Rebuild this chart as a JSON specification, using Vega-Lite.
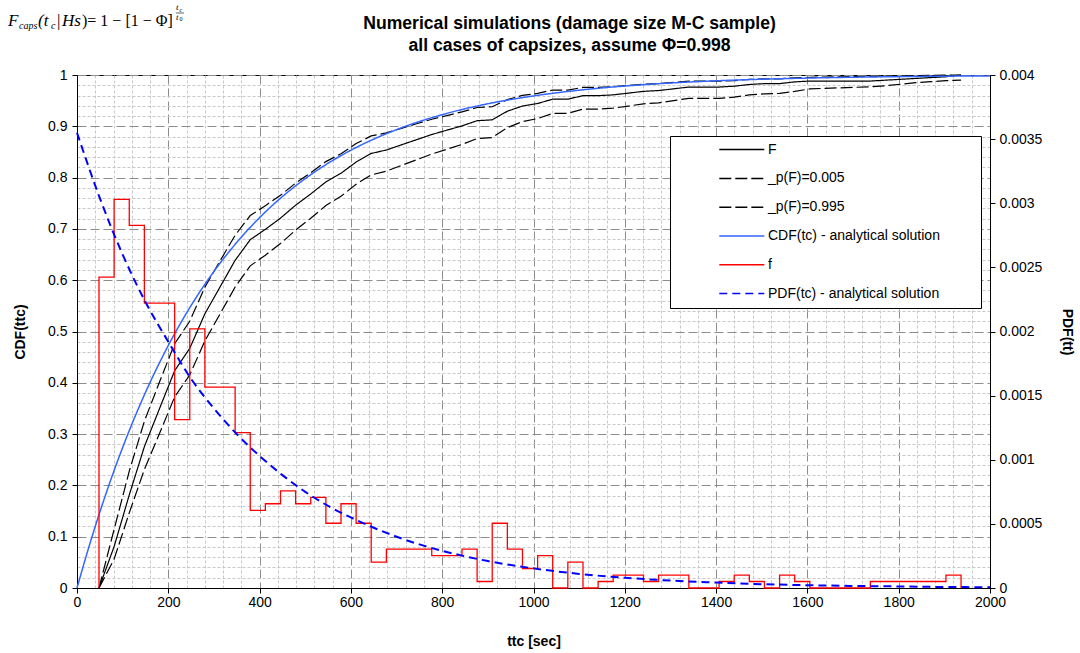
{
  "$schema": "https://vega.github.io/schema/vega-lite/v6.json",
  "width": 913,
  "height": 513,
  "autosize": {"type": "none"},
  "padding": {"left": 77, "top": 75, "right": 90, "bottom": 65},
  "background": "white",
  "datasets": {
    "emp": [
      {"t":48.2,"F":0,"lo":0,"hi":0},
      {"t":81.3,"F":0.0807,"lo":0.0563,"hi":0.1143},
      {"t":114.5,"F":0.1815,"lo":0.1465,"hi":0.2277},
      {"t":147.6,"F":0.2756,"lo":0.2311,"hi":0.3251},
      {"t":180.7,"F":0.3496,"lo":0.3012,"hi":0.4014},
      {"t":213.9,"F":0.4235,"lo":0.3725,"hi":0.4763},
      {"t":247.0,"F":0.4672,"lo":0.4152,"hi":0.5200},
      {"t":280.1,"F":0.5345,"lo":0.4817,"hi":0.5865},
      {"t":313.2,"F":0.5866,"lo":0.5339,"hi":0.6374},
      {"t":346.4,"F":0.6387,"lo":0.5867,"hi":0.6876},
      {"t":379.5,"F":0.6790,"lo":0.6280,"hi":0.7261},
      {"t":412.6,"F":0.6992,"lo":0.6488,"hi":0.7452},
      {"t":445.8,"F":0.7210,"lo":0.6714,"hi":0.7657},
      {"t":478.9,"F":0.7462,"lo":0.6977,"hi":0.7893},
      {"t":512.0,"F":0.7681,"lo":0.7207,"hi":0.8096},
      {"t":545.2,"F":0.7916,"lo":0.7456,"hi":0.8312},
      {"t":578.3,"F":0.8084,"lo":0.7635,"hi":0.8465},
      {"t":611.4,"F":0.8303,"lo":0.7871,"hi":0.8663},
      {"t":644.5,"F":0.8471,"lo":0.8053,"hi":0.8813},
      {"t":677.7,"F":0.8538,"lo":0.8126,"hi":0.8872},
      {"t":710.8,"F":0.8639,"lo":0.8237,"hi":0.8961},
      {"t":743.9,"F":0.8739,"lo":0.8347,"hi":0.9049},
      {"t":777.1,"F":0.8840,"lo":0.8459,"hi":0.9137},
      {"t":810.2,"F":0.8924,"lo":0.8552,"hi":0.9209},
      {"t":843.3,"F":0.9008,"lo":0.8647,"hi":0.9281},
      {"t":876.5,"F":0.9109,"lo":0.8761,"hi":0.9366},
      {"t":909.6,"F":0.9126,"lo":0.8780,"hi":0.9381},
      {"t":942.7,"F":0.9294,"lo":0.8974,"hi":0.9520},
      {"t":975.8,"F":0.9395,"lo":0.9092,"hi":0.9602},
      {"t":1009.0,"F":0.9445,"lo":0.9151,"hi":0.9641},
      {"t":1042.1,"F":0.9529,"lo":0.9251,"hi":0.9707},
      {"t":1075.2,"F":0.9529,"lo":0.9251,"hi":0.9707},
      {"t":1108.4,"F":0.9597,"lo":0.9334,"hi":0.9759},
      {"t":1141.5,"F":0.9597,"lo":0.9334,"hi":0.9759},
      {"t":1174.6,"F":0.9613,"lo":0.9353,"hi":0.9771},
      {"t":1207.8,"F":0.9647,"lo":0.9395,"hi":0.9796},
      {"t":1240.9,"F":0.9681,"lo":0.9438,"hi":0.9821},
      {"t":1274.0,"F":0.9697,"lo":0.9458,"hi":0.9833},
      {"t":1307.1,"F":0.9731,"lo":0.9501,"hi":0.9857},
      {"t":1340.3,"F":0.9765,"lo":0.9545,"hi":0.9880},
      {"t":1373.4,"F":0.9765,"lo":0.9545,"hi":0.9880},
      {"t":1406.5,"F":0.9765,"lo":0.9545,"hi":0.9880},
      {"t":1439.7,"F":0.9782,"lo":0.9567,"hi":0.9892},
      {"t":1472.8,"F":0.9815,"lo":0.9611,"hi":0.9913},
      {"t":1505.9,"F":0.9832,"lo":0.9634,"hi":0.9924},
      {"t":1539.1,"F":0.9832,"lo":0.9640,"hi":0.9924},
      {"t":1572.2,"F":0.9866,"lo":0.9680,"hi":0.9945},
      {"t":1605.3,"F":0.9882,"lo":0.9730,"hi":0.9954},
      {"t":1638.4,"F":0.9882,"lo":0.9740,"hi":0.9960},
      {"t":1671.6,"F":0.9882,"lo":0.9750,"hi":0.9965},
      {"t":1704.7,"F":0.9882,"lo":0.9760,"hi":0.9970},
      {"t":1737.8,"F":0.9882,"lo":0.9770,"hi":0.9975},
      {"t":1771.0,"F":0.9899,"lo":0.9790,"hi":0.9980},
      {"t":1804.1,"F":0.9916,"lo":0.9820,"hi":0.9984},
      {"t":1837.2,"F":0.9933,"lo":0.9850,"hi":0.9988},
      {"t":1870.4,"F":0.9950,"lo":0.9870,"hi":0.9992},
      {"t":1903.5,"F":0.9966,"lo":0.9890,"hi":0.9996},
      {"t":1936.6,"F":1.0,"lo":0.9900,"hi":1.0}
    ],
    "cdfa": [
      {"t":0,"cdf":0,"s":"CDF(tc) - analytical solution"},
      {"t":25,"cdf":0.0769,"s":"CDF(tc) - analytical solution"},
      {"t":50,"cdf":0.1479,"s":"CDF(tc) - analytical solution"},
      {"t":75,"cdf":0.2134,"s":"CDF(tc) - analytical solution"},
      {"t":100,"cdf":0.2739,"s":"CDF(tc) - analytical solution"},
      {"t":150,"cdf":0.3812,"s":"CDF(tc) - analytical solution"},
      {"t":200,"cdf":0.4727,"s":"CDF(tc) - analytical solution"},
      {"t":250,"cdf":0.5507,"s":"CDF(tc) - analytical solution"},
      {"t":300,"cdf":0.6171,"s":"CDF(tc) - analytical solution"},
      {"t":350,"cdf":0.6737,"s":"CDF(tc) - analytical solution"},
      {"t":400,"cdf":0.7220,"s":"CDF(tc) - analytical solution"},
      {"t":450,"cdf":0.7631,"s":"CDF(tc) - analytical solution"},
      {"t":500,"cdf":0.7981,"s":"CDF(tc) - analytical solution"},
      {"t":550,"cdf":0.8280,"s":"CDF(tc) - analytical solution"},
      {"t":600,"cdf":0.8534,"s":"CDF(tc) - analytical solution"},
      {"t":700,"cdf":0.8935,"s":"CDF(tc) - analytical solution"},
      {"t":800,"cdf":0.9227,"s":"CDF(tc) - analytical solution"},
      {"t":900,"cdf":0.9439,"s":"CDF(tc) - analytical solution"},
      {"t":1000,"cdf":0.9592,"s":"CDF(tc) - analytical solution"},
      {"t":1100,"cdf":0.9704,"s":"CDF(tc) - analytical solution"},
      {"t":1200,"cdf":0.9785,"s":"CDF(tc) - analytical solution"},
      {"t":1300,"cdf":0.9844,"s":"CDF(tc) - analytical solution"},
      {"t":1400,"cdf":0.9887,"s":"CDF(tc) - analytical solution"},
      {"t":1500,"cdf":0.9918,"s":"CDF(tc) - analytical solution"},
      {"t":1600,"cdf":0.9940,"s":"CDF(tc) - analytical solution"},
      {"t":1700,"cdf":0.9957,"s":"CDF(tc) - analytical solution"},
      {"t":1800,"cdf":0.9968,"s":"CDF(tc) - analytical solution"},
      {"t":1900,"cdf":0.9977,"s":"CDF(tc) - analytical solution"},
      {"t":2000,"cdf":0.9983,"s":"CDF(tc) - analytical solution"}
    ],
    "hist": [
      {"i":0,"t":48.2,"pdf":0,"s":"f"},
      {"i":1,"t":48.2,"pdf":0.002424,"s":"f"},
      {"i":2,"t":81.3,"pdf":0.00303,"s":"f"},
      {"i":3,"t":114.5,"pdf":0.002828,"s":"f"},
      {"i":4,"t":147.6,"pdf":0.002222,"s":"f"},
      {"i":5,"t":180.7,"pdf":0.002222,"s":"f"},
      {"i":6,"t":213.9,"pdf":0.001313,"s":"f"},
      {"i":7,"t":247.0,"pdf":0.00202,"s":"f"},
      {"i":8,"t":280.1,"pdf":0.001566,"s":"f"},
      {"i":9,"t":313.2,"pdf":0.001566,"s":"f"},
      {"i":10,"t":346.4,"pdf":0.001212,"s":"f"},
      {"i":11,"t":379.5,"pdf":0.000606,"s":"f"},
      {"i":12,"t":412.6,"pdf":0.000657,"s":"f"},
      {"i":13,"t":445.8,"pdf":0.000758,"s":"f"},
      {"i":14,"t":478.9,"pdf":0.000657,"s":"f"},
      {"i":15,"t":512.0,"pdf":0.000707,"s":"f"},
      {"i":16,"t":545.2,"pdf":0.000505,"s":"f"},
      {"i":17,"t":578.3,"pdf":0.000657,"s":"f"},
      {"i":18,"t":611.4,"pdf":0.000505,"s":"f"},
      {"i":19,"t":644.5,"pdf":0.000202,"s":"f"},
      {"i":20,"t":677.7,"pdf":0.000303,"s":"f"},
      {"i":21,"t":710.8,"pdf":0.000303,"s":"f"},
      {"i":22,"t":743.9,"pdf":0.000303,"s":"f"},
      {"i":23,"t":777.1,"pdf":0.000253,"s":"f"},
      {"i":24,"t":810.2,"pdf":0.000253,"s":"f"},
      {"i":25,"t":843.3,"pdf":0.000303,"s":"f"},
      {"i":26,"t":876.5,"pdf":0.0000505,"s":"f"},
      {"i":27,"t":909.6,"pdf":0.000505,"s":"f"},
      {"i":28,"t":942.7,"pdf":0.000303,"s":"f"},
      {"i":29,"t":975.8,"pdf":0.000152,"s":"f"},
      {"i":30,"t":1009.0,"pdf":0.000253,"s":"f"},
      {"i":31,"t":1042.1,"pdf":0,"s":"f"},
      {"i":32,"t":1075.2,"pdf":0.000202,"s":"f"},
      {"i":33,"t":1108.4,"pdf":0,"s":"f"},
      {"i":34,"t":1141.5,"pdf":0.0000505,"s":"f"},
      {"i":35,"t":1174.6,"pdf":0.000101,"s":"f"},
      {"i":36,"t":1207.8,"pdf":0.000101,"s":"f"},
      {"i":37,"t":1240.9,"pdf":0.0000505,"s":"f"},
      {"i":38,"t":1274.0,"pdf":0.000101,"s":"f"},
      {"i":39,"t":1307.1,"pdf":0.000101,"s":"f"},
      {"i":40,"t":1340.3,"pdf":0,"s":"f"},
      {"i":41,"t":1373.4,"pdf":0,"s":"f"},
      {"i":42,"t":1406.5,"pdf":0.0000505,"s":"f"},
      {"i":43,"t":1439.7,"pdf":0.000101,"s":"f"},
      {"i":44,"t":1472.8,"pdf":0.0000505,"s":"f"},
      {"i":45,"t":1505.9,"pdf":0,"s":"f"},
      {"i":46,"t":1539.1,"pdf":0.000101,"s":"f"},
      {"i":47,"t":1572.2,"pdf":0.0000505,"s":"f"},
      {"i":48,"t":1605.3,"pdf":0,"s":"f"},
      {"i":49,"t":1638.4,"pdf":0,"s":"f"},
      {"i":50,"t":1671.6,"pdf":0,"s":"f"},
      {"i":51,"t":1704.7,"pdf":0,"s":"f"},
      {"i":52,"t":1737.8,"pdf":0.0000505,"s":"f"},
      {"i":53,"t":1771.0,"pdf":0.0000505,"s":"f"},
      {"i":54,"t":1804.1,"pdf":0.0000505,"s":"f"},
      {"i":55,"t":1837.2,"pdf":0.0000505,"s":"f"},
      {"i":56,"t":1870.4,"pdf":0.0000505,"s":"f"},
      {"i":57,"t":1903.5,"pdf":0.000101,"s":"f"},
      {"i":58,"t":1936.6,"pdf":0,"s":"f"}
    ],
    "pdfa": [
      {"t":0,"pdf":0.00355,"s":"PDF(tc) - analytical solution"},
      {"t":50,"pdf":0.00304,"s":"PDF(tc) - analytical solution"},
      {"t":100,"pdf":0.00260,"s":"PDF(tc) - analytical solution"},
      {"t":150,"pdf":0.00223,"s":"PDF(tc) - analytical solution"},
      {"t":200,"pdf":0.00192,"s":"PDF(tc) - analytical solution"},
      {"t":250,"pdf":0.00163,"s":"PDF(tc) - analytical solution"},
      {"t":300,"pdf":0.00140,"s":"PDF(tc) - analytical solution"},
      {"t":350,"pdf":0.00120,"s":"PDF(tc) - analytical solution"},
      {"t":400,"pdf":0.00103,"s":"PDF(tc) - analytical solution"},
      {"t":450,"pdf":0.00088,"s":"PDF(tc) - analytical solution"},
      {"t":500,"pdf":0.00075,"s":"PDF(tc) - analytical solution"},
      {"t":550,"pdf":0.00064,"s":"PDF(tc) - analytical solution"},
      {"t":600,"pdf":0.00055,"s":"PDF(tc) - analytical solution"},
      {"t":650,"pdf":0.00047,"s":"PDF(tc) - analytical solution"},
      {"t":700,"pdf":0.00040,"s":"PDF(tc) - analytical solution"},
      {"t":750,"pdf":0.00034,"s":"PDF(tc) - analytical solution"},
      {"t":800,"pdf":0.00029,"s":"PDF(tc) - analytical solution"},
      {"t":900,"pdf":0.00021,"s":"PDF(tc) - analytical solution"},
      {"t":1000,"pdf":0.000153,"s":"PDF(tc) - analytical solution"},
      {"t":1100,"pdf":0.000110,"s":"PDF(tc) - analytical solution"},
      {"t":1200,"pdf":0.000080,"s":"PDF(tc) - analytical solution"},
      {"t":1300,"pdf":0.000058,"s":"PDF(tc) - analytical solution"},
      {"t":1400,"pdf":0.000042,"s":"PDF(tc) - analytical solution"},
      {"t":1500,"pdf":0.000030,"s":"PDF(tc) - analytical solution"},
      {"t":1600,"pdf":0.000022,"s":"PDF(tc) - analytical solution"},
      {"t":1700,"pdf":0.000016,"s":"PDF(tc) - analytical solution"},
      {"t":1800,"pdf":0.000012,"s":"PDF(tc) - analytical solution"},
      {"t":1900,"pdf":0.000008,"s":"PDF(tc) - analytical solution"},
      {"t":2000,"pdf":0.000006,"s":"PDF(tc) - analytical solution"}
    ]
  },
  "encoding": {
    "x": {
      "field": "t", "type": "quantitative",
      "scale": {"domain": [0, 2000], "nice": false},
      "axis": {
        "title": "ttc [sec]", "format": "d", "titlePadding": 25,
        "values": [0,40,80,120,160,200,240,280,320,360,400,440,480,520,560,600,640,680,720,760,800,840,880,920,960,1000,1040,1080,1120,1160,1200,1240,1280,1320,1360,1400,1440,1480,1520,1560,1600,1640,1680,1720,1760,1800,1840,1880,1920,1960,2000],
        "labelExpr": "datum.value % 200 === 0 ? datum.label : ''",
        "tickSize": {"condition": {"test": "datum.value % 200 === 0", "value": 5}, "value": 0},
        "gridColor": {"condition": {"test": "datum.value % 200 === 0", "value": "#8c8c8c"}, "value": "#c8c8c8"},
        "gridDash": {"condition": {"test": "datum.value % 200 === 0", "value": [9, 4]}, "value": [3, 2]}
      }
    }
  },
  "layer": [
    {
      "encoding": {
        "y": {
          "field": "cdf", "type": "quantitative",
          "scale": {"domain": [0, 1], "nice": false},
          "axis": {
            "title": "CDF(ttc)", "titlePadding": 20, "labelPadding": 5,
            "values": [0,0.02,0.04,0.06,0.08,0.1,0.12,0.14,0.16,0.18,0.2,0.22,0.24,0.26,0.28,0.3,0.32,0.34,0.36,0.38,0.4,0.42,0.44,0.46,0.48,0.5,0.52,0.54,0.56,0.58,0.6,0.62,0.64,0.66,0.68,0.7,0.72,0.74,0.76,0.78,0.8,0.82,0.84,0.86,0.88,0.9,0.92,0.94,0.96,0.98,1],
            "labelExpr": "abs(datum.value*10 - round(datum.value*10)) < 0.001 ? format(datum.value, '.1~f') : ''",
            "tickSize": {"condition": {"test": "abs(datum.value*10 - round(datum.value*10)) < 0.001", "value": 5}, "value": 0},
            "gridColor": {"condition": {"test": "abs(datum.value*10 - round(datum.value*10)) < 0.001", "value": "#8c8c8c"}, "value": "#c8c8c8"},
            "gridDash": {"condition": {"test": "abs(datum.value*10 - round(datum.value*10)) < 0.001", "value": [9, 4]}, "value": [3, 2]}
          }
        }
      },
      "layer": [
        {
          "data": {"name": "emp"},
          "transform": [{"fold": ["F", "lo", "hi"], "as": ["s", "cdf"]}],
          "mark": {"type": "line", "strokeWidth": 1.2},
          "encoding": {
            "color": {"field": "s", "type": "nominal",
              "scale": {"domain": ["F", "lo", "hi", "CDF(tc) - analytical solution", "f", "PDF(tc) - analytical solution"], "range": ["#000000", "#000000", "#000000", "#3366FF", "#FF0000", "#0000FF"]},
              "legend": {"title": null, "labelExpr": "(datum.label == 'lo' ? '_p(F)=0.005' : datum.label == 'hi' ? '_p(F)=0.995' : datum.label) + '\u00a0\u2800\u2800\u2800'"}},
            "strokeDash": {"field": "s", "type": "nominal",
              "scale": {"domain": ["F", "lo", "hi", "CDF(tc) - analytical solution", "f", "PDF(tc) - analytical solution"], "range": [[1, 0], [12, 4], [12, 4], [1, 0], [1, 0], [8, 5]]},
              "legend": {"title": null, "labelExpr": "(datum.label == 'lo' ? '_p(F)=0.005' : datum.label == 'hi' ? '_p(F)=0.995' : datum.label) + '\u00a0\u2800\u2800\u2800'"}}
          }
        },
        {
          "data": {"name": "cdfa"},
          "mark": {"type": "line", "strokeWidth": 1.5, "interpolate": "monotone"},
          "encoding": {
            "color": {"field": "s", "type": "nominal", "legend": {"title": null}},
            "strokeDash": {"field": "s", "type": "nominal", "legend": {"title": null}}
          }
        }
      ]
    },
    {
      "encoding": {
        "x": {
          "field": "t", "type": "quantitative",
          "axis": {
            "orient": "top", "labels": false, "ticks": false, "domain": false, "grid": false,
            "title": ["Numerical simulations (damage size M-C sample)", "all cases of capsizes, assume Φ=0.998"],
            "titleFontSize": 17.6, "titleLineHeight": 22, "titleX": 492, "titlePadding": 21
          }
        },
        "y": {
          "field": "pdf", "type": "quantitative",
          "scale": {"domain": [0, 0.004], "nice": false},
          "axis": {
            "orient": "right", "title": "PDF(tt)", "format": "~g", "grid": false,
            "values": [0,0.0005,0.001,0.0015,0.002,0.0025,0.003,0.0035,0.004],
            "tickSize": 5, "labelPadding": 4, "titlePadding": 18
          }
        }
      },
      "layer": [
        {
          "data": {"name": "hist"},
          "mark": {"type": "line", "strokeWidth": 1.3, "interpolate": "step-after"},
          "encoding": {
            "order": {"field": "i"},
            "color": {"field": "s", "type": "nominal", "legend": {"title": null}},
            "strokeDash": {"field": "s", "type": "nominal", "legend": {"title": null}}
          }
        },
        {
          "data": {"name": "pdfa"},
          "mark": {"type": "line", "strokeWidth": 2, "interpolate": "monotone"},
          "encoding": {
            "color": {"field": "s", "type": "nominal", "legend": {"title": null}},
            "strokeDash": {"field": "s", "type": "nominal", "legend": {"title": null}}
          }
        }
      ]
    },
    {
      "data": {"values": [{}]},
      "layer": [
        {"mark": {"type": "text", "text": "F", "font": "Liberation Serif", "fontStyle": "italic", "fontSize": 17, "align": "left", "baseline": "alphabetic"},
         "encoding": {"x": {"value": -69}, "y": {"value": -49}}},
        {"mark": {"type": "text", "text": "caps", "font": "Liberation Serif", "fontStyle": "italic", "fontSize": 10, "align": "left", "baseline": "alphabetic"},
         "encoding": {"x": {"value": -58}, "y": {"value": -46}}},
        {"mark": {"type": "text", "text": "(t", "font": "Liberation Serif", "fontStyle": "italic", "fontSize": 17, "align": "left", "baseline": "alphabetic"},
         "encoding": {"x": {"value": -39}, "y": {"value": -49}}},
        {"mark": {"type": "text", "text": "c", "font": "Liberation Serif", "fontStyle": "italic", "fontSize": 10, "align": "left", "baseline": "alphabetic"},
         "encoding": {"x": {"value": -26}, "y": {"value": -46}}},
        {"mark": {"type": "text", "text": "|", "font": "Liberation Serif", "fontSize": 17, "align": "left", "baseline": "alphabetic"},
         "encoding": {"x": {"value": -20}, "y": {"value": -49}}},
        {"mark": {"type": "text", "text": "Hs", "font": "Liberation Serif", "fontStyle": "italic", "fontSize": 17, "align": "left", "baseline": "alphabetic"},
         "encoding": {"x": {"value": -15}, "y": {"value": -49}}},
        {"mark": {"type": "text", "text": ")= 1 − [1 − Φ]", "font": "Liberation Serif", "fontSize": 16, "align": "left", "baseline": "alphabetic"},
         "encoding": {"x": {"value": 5}, "y": {"value": -49}}},
        {"mark": {"type": "text", "text": "t", "font": "Liberation Serif", "fontStyle": "italic", "fontSize": 9, "align": "left", "baseline": "alphabetic"},
         "encoding": {"x": {"value": 99}, "y": {"value": -65}}},
        {"mark": {"type": "text", "text": "c", "font": "Liberation Serif", "fontStyle": "italic", "fontSize": 6, "align": "left", "baseline": "alphabetic"},
         "encoding": {"x": {"value": 102.5}, "y": {"value": -63}}},
        {"mark": {"type": "text", "text": "t", "font": "Liberation Serif", "fontStyle": "italic", "fontSize": 9, "align": "left", "baseline": "alphabetic"},
         "encoding": {"x": {"value": 99}, "y": {"value": -55}}},
        {"mark": {"type": "text", "text": "0", "font": "Liberation Serif", "fontSize": 6, "align": "left", "baseline": "alphabetic"},
         "encoding": {"x": {"value": 102.5}, "y": {"value": -54}}},
        {"mark": {"type": "rule", "color": "black", "strokeWidth": 0.6},
         "encoding": {"x": {"value": 99}, "x2": {"value": 107}, "y": {"value": -62}}}
      ]
    }
  ],
  "resolve": {"scale": {"y": "independent"}, "axis": {"x": "independent"}},
  "config": {
    "font": "Liberation Sans",
    "view": {"stroke": "black", "strokeWidth": 1},
    "axis": {
      "labelFont": "Liberation Sans", "labelFontSize": 14, "labelColor": "black",
      "titleFont": "Liberation Sans", "titleFontSize": 14, "titleFontWeight": "bold", "titleColor": "black",
      "domainColor": "black", "tickColor": "black", "labelFlush": false, "labelOverlap": false
    },
    "legend": {
      "orient": "none", "legendX": 593, "legendY": 61, "direction": "vertical",
      "symbolType": "stroke", "symbolSize": 2025, "symbolStrokeWidth": 1.5,
      "clipHeight": 14, "rowPadding": 14.8, "padding": 6.6,
      "symbolOffset": 41.7, "labelOffset": 2.7,
      "strokeColor": "black", "fillColor": "white", "cornerRadius": 0,
      "labelFont": "Liberation Sans", "labelFontSize": 14, "labelColor": "black", "labelLimit": 0
    }
  }
}
